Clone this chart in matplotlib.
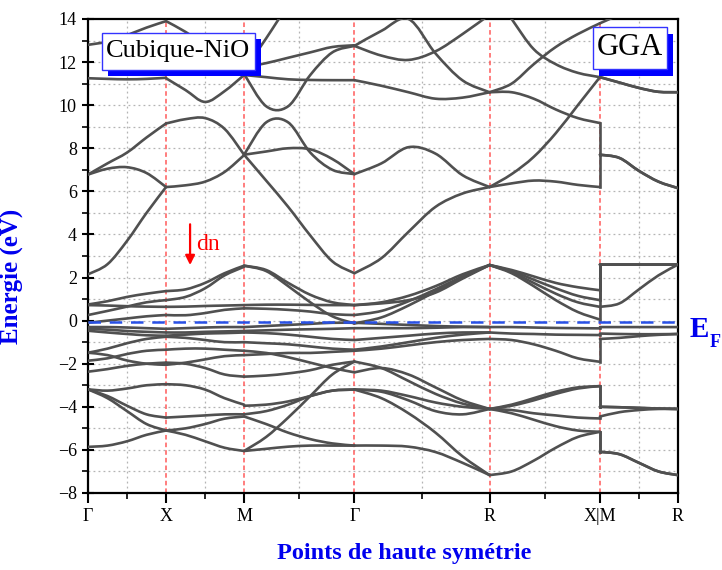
import numpy as np
import matplotlib
matplotlib.use("Agg")
import matplotlib.pyplot as plt
from matplotlib.patches import Rectangle, PathPatch
from matplotlib.path import Path

plt.rcParams['font.family'] = ['Liberation Serif', 'DejaVu Serif']

# high-symmetry path of the simple cubic zone (k in units of 2*pi/a)
k_ticks = [0.0, 0.5, 1.0, 1.7071, 2.5731, 3.2802, 3.7802]
k_labels = ['Γ', 'X', 'M', 'Γ', 'R', 'X|M', 'R']
k_minor = [0.25, 0.75, 1.3536, 2.1401, 2.9267, 3.5302]

# sample positions along each segment
k_GX = [0.0, 0.125, 0.25, 0.375, 0.5]
k_XM = [0.5, 0.625, 0.75, 0.875, 1.0]
k_MG = [1.0, 1.1414, 1.2828, 1.4243, 1.5657, 1.7071]
k_GR = [1.7071, 1.8803, 2.0535, 2.2267, 2.3999, 2.5731]
k_RXM = [2.5731, 2.7145, 2.8559, 2.9974, 3.1388, 3.2802,
         3.2802, 3.4052, 3.5302, 3.6552, 3.7802]

# band energies (eV) along Gamma-X
bands_GX = [
    [2.15, 2.62, 3.7, 5.0, 6.2],
    [6.78, 7.05, 7.12, 6.85, 6.2],
    [6.78, 7.3, 7.8, 8.5, 9.15],
    [11.25, 11.22, 11.2, 11.22, 11.27],
    [12.8, 12.95, 13.25, 13.6, 13.9],
    [0.75, 0.9, 1.1, 1.25, 1.37],
    [0.26, 0.45, 0.65, 0.85, 0.95],
    [0.72, 0.7, 0.67, 0.65, 0.64],
    [-0.1, 0.0, 0.1, 0.2, 0.26],
    [-0.3, -0.3, -0.32, -0.35, -0.38],
    [-0.38, -0.42, -0.48, -0.52, -0.55],
    [-0.47, -0.55, -0.62, -0.68, -0.7],
    [-1.49, -1.3, -1.05, -0.85, -0.75],
    [-1.49, -1.6, -1.85, -2.0, -2.05],
    [-1.86, -1.75, -1.55, -1.4, -1.35],
    [-2.37, -2.25, -2.1, -2.0, -1.95],
    [-3.19, -3.25, -3.15, -3.0, -2.95],
    [-3.19, -3.5, -3.95, -4.35, -4.5],
    [-3.19, -3.6, -4.2, -4.8, -5.1],
    [-5.86, -5.8, -5.6, -5.3, -5.1],
]

# X-M
bands_XM = [
    [6.2, 6.28, 6.45, 6.9, 7.68],
    [9.15, 9.35, 9.4, 8.9, 7.7],
    [11.25, 10.7, 10.15, 10.65, 11.4],
    [13.9, 13.4, 12.8, 12.2, 11.8],
    [1.37, 1.45, 1.75, 2.2, 2.55],
    [0.95, 1.1, 1.5, 2.1, 2.5],
    [0.64, 0.65, 0.68, 0.7, 0.72],
    [0.26, 0.25, 0.35, 0.5, 0.57],
    [-0.38, -0.35, -0.32, -0.3, -0.3],
    [-0.55, -0.55, -0.52, -0.5, -0.48],
    [-0.7, -0.65, -0.6, -0.58, -0.55],
    [-0.75, -0.8, -0.9, -1.0, -1.0],
    [-2.05, -1.95, -1.8, -1.65, -1.6],
    [-1.35, -1.3, -1.3, -1.35, -1.4],
    [-1.95, -2.0, -2.2, -2.5, -2.6],
    [-2.95, -3.0, -3.2, -3.6, -3.9],
    [-4.5, -4.45, -4.4, -4.35, -4.35],
    [-5.1, -5.3, -5.6, -5.9, -6.05],
    [-5.1, -5.0, -4.8, -4.55, -4.45],
]

# M-Gamma
bands_MG = [
    [7.7, 6.5, 5.28, 3.95, 2.75, 2.2],
    [7.7, 9.2, 9.2, 7.8, 7.0, 6.8],
    [7.7, 7.85, 8.0, 7.95, 7.5, 6.8],
    [11.45, 9.95, 9.95, 11.4, 12.45, 12.75],
    [11.4, 11.3, 11.2, 11.17, 11.16, 11.16],
    [11.75, 11.95, 12.2, 12.45, 12.7, 12.78],
    [11.6, 13.1, 14.6, 15.5, 15.5, 15.5],
    [2.55, 2.35, 1.75, 1.2, 0.85, 0.72],
    [2.55, 2.3, 1.6, 0.85, 0.2, -0.13],
    [0.72, 0.74, 0.74, 0.73, 0.72, 0.72],
    [0.57, 0.55, 0.5, 0.42, 0.3, 0.26],
    [-0.3, -0.25, -0.2, -0.15, -0.1, -0.1],
    [-0.48, -0.45, -0.42, -0.4, -0.38, -0.35],
    [-0.55, -0.58, -0.65, -0.75, -0.85, -0.9],
    [-1.0, -1.05, -1.1, -1.2, -1.3, -1.35],
    [-1.6, -1.55, -1.5, -1.5, -1.45, -1.4],
    [-1.4, -1.5, -1.7, -1.95, -2.2, -2.4],
    [-2.6, -2.55, -2.45, -2.3, -2.05, -1.9],
    [-3.95, -3.9, -3.75, -3.5, -3.25, -3.2],
    [-4.35, -4.2, -3.9, -3.5, -3.25, -3.2],
    [-6.05, -5.4, -4.5, -3.5, -2.5, -1.9],
    [-4.45, -4.8, -5.2, -5.5, -5.7, -5.8],
    [-6.05, -5.95, -5.85, -5.8, -5.8, -5.8],
]

# Gamma-R
bands_GR = [
    [2.2, 2.9, 4.12, 5.28, 5.9, 6.2],
    [6.8, 7.3, 8.05, 7.75, 6.75, 6.2],
    [11.16, 10.9, 10.6, 10.3, 10.35, 10.6],
    [12.75, 12.3, 12.1, 12.5, 13.3, 14.2],
    [12.75, 13.45, 14.0, 12.4, 11.15, 10.6],
    [0.72, 0.8, 0.95, 1.3, 1.95, 2.58],
    [0.72, 0.85, 1.15, 1.6, 2.15, 2.58],
    [0.26, 0.45, 0.9, 1.45, 2.05, 2.58],
    [-0.13, 0.15, 0.7, 1.35, 2.0, 2.58],
    [-0.1, -0.15, -0.2, -0.25, -0.28, -0.3],
    [-0.35, -0.35, -0.35, -0.33, -0.3, -0.3],
    [-0.9, -0.8, -0.7, -0.6, -0.55, -0.55],
    [-1.35, -1.2, -1.0, -0.8, -0.65, -0.55],
    [-1.4, -1.3, -1.15, -1.0, -0.9, -0.85],
    [-2.4, -2.2, -2.5, -3.1, -3.7, -4.1],
    [-1.9, -2.2, -2.8, -3.4, -3.85, -4.1],
    [-3.2, -3.3, -3.7, -4.2, -4.35, -4.1],
    [-3.2, -3.25, -3.5, -3.8, -4.0, -4.1],
    [-3.2, -3.6, -4.3, -5.2, -6.3, -7.17],
    [-5.8, -5.8, -5.85, -6.1, -6.6, -7.17],
]

# R-X, then M-R (X and M share one tick)
bands_RXM = [
    [6.2, 6.37, 6.5, 6.45, 6.3, 6.2, 7.7, 7.55, 6.95, 6.45, 6.15],
    [10.6, 10.6, 10.3, 9.8, 9.4, 9.17, 7.7, 7.55, 6.95, 6.45, 6.15],
    [6.2, 6.8, 7.6, 8.7, 10.0, 11.3, 11.3, 11.05, 10.8, 10.62, 10.6],
    [15.5, 14.0, 12.6, 11.9, 11.5, 11.3, 11.3, 11.05, 10.8, 10.62, 10.6],
    [10.6, 11.0, 11.9, 12.7, 13.3, 13.8, 13.8, 14.2, 14.6, 15.0, 15.0],
    [2.58, 2.35, 2.05, 1.75, 1.55, 1.41, 2.6, 2.6, 2.6, 2.6, 2.6],
    [2.58, 2.3, 1.9, 1.5, 1.15, 0.95, 2.6, 2.6, 2.6, 2.6, 2.6],
    [2.58, 2.25, 1.75, 1.25, 0.85, 0.64, 0.64, 0.8, 1.45, 2.1, 2.6],
    [2.58, 2.2, 1.6, 0.95, 0.4, 0.05, 2.6, 2.6, 2.6, 2.6, 2.6],
    [-0.3, -0.3, -0.32, -0.34, -0.35, -0.36, -0.3, -0.3, -0.3, -0.3, -0.3],
    [-0.55, -0.6, -0.62, -0.65, -0.66, -0.67, -0.6, -0.62, -0.63, -0.63, -0.62],
    [-0.85, -0.9, -1.1, -1.4, -1.75, -1.91, -0.85, -0.8, -0.72, -0.66, -0.62],
    [-4.1, -3.95, -3.7, -3.4, -3.15, -3.04, -4.0, -4.02, -4.05, -4.08, -4.1],
    [-4.1, -3.9, -3.6, -3.3, -3.1, -3.04, -4.0, -4.02, -4.05, -4.08, -4.1],
    [-4.1, -4.15, -4.3, -4.4, -4.5, -4.54, -4.45, -4.25, -4.15, -4.1, -4.1],
    [-4.1, -4.3, -4.6, -4.9, -5.1, -5.16, -6.09, -6.2, -6.6, -7.0, -7.17],
    [-7.17, -7.0, -6.5, -5.9, -5.4, -5.16, -6.09, -6.2, -6.6, -7.0, -7.17],
]

e_fermi = -0.07
band_color = '#505050'


def spline_path(xs, ys):
    # cubic Bezier pieces through every sample (Catmull-Rom tangents)
    pts = np.column_stack([xs, ys]).astype(float)
    n = len(pts)
    verts = [pts[0]]
    codes = [Path.MOVETO]
    for i in range(n - 1):
        p0 = pts[i - 1] if i > 0 else pts[i]
        p1, p2 = pts[i], pts[i + 1]
        p3 = pts[i + 2] if i + 2 < n else pts[i + 1]
        verts += [p1 + (p2 - p0) / 6.0, p2 - (p3 - p1) / 6.0, p2]
        codes += [Path.CURVE4] * 3
    return Path(verts, codes)


def draw_band(ax, xs, ys):
    ax.add_patch(PathPatch(spline_path(xs, ys), fill=False, edgecolor=band_color,
                           lw=1.9, capstyle='round', joinstyle='round', zorder=3))


fig = plt.figure(figsize=(7.22, 5.70), dpi=100)
ax = fig.add_axes([0.1219, 0.1351, 0.8171, 0.8316])

# grid: grey dots on minor positions, red dashes at high-symmetry points
for y in range(-7, 14):
    ax.axhline(y, color='#b4b4b4', lw=0.9, ls=(0, (1.5, 2.5)), zorder=1)
for k in k_minor:
    ax.axvline(k, color='#b4b4b4', lw=0.9, ls=(0, (1.5, 2.5)), zorder=1)
for k in k_ticks[1:-1]:
    ax.axvline(k, color='#ff5a5a', lw=1.1, ls=(0, (3, 2)), zorder=1)

for kk, bands in [(k_GX, bands_GX), (k_XM, bands_XM), (k_MG, bands_MG),
                  (k_GR, bands_GR)]:
    for band in bands:
        draw_band(ax, kk, band)

# R-X and M-R drawn apart, joined by the vertical step at X|M
for band in bands_RXM:
    draw_band(ax, k_RXM[:6], band[:6])
    draw_band(ax, k_RXM[6:], band[6:])
    ax.plot(k_RXM[5:7], band[5:7], color=band_color, lw=1.9, zorder=3)

ax.axhline(e_fermi, color='#2850e6', lw=1.8, ls=(0, (5, 3.5)), zorder=4)

ax.set_xlim(k_ticks[0], k_ticks[-1])
ax.set_ylim(-8, 14)
ax.set_xticks(k_ticks)
ax.set_xticklabels(k_labels)
ax.set_xticks(k_minor, minor=True)
ax.set_yticks(range(-8, 15, 2))
ax.set_yticks(range(-7, 14, 2), minor=True)
ax.tick_params(axis='both', which='major', labelsize=13, width=1.5, length=6)
ax.tick_params(axis='y', which='major', direction='inout', length=9)
ax.tick_params(axis='x', which='major', direction='out', length=7)
ax.tick_params(axis='both', which='minor', direction='out', width=1.2, length=4)
for sp in ax.spines.values():
    sp.set_linewidth(1.6)

ax.set_ylabel('Energie (eV)', color='#0000ee', fontsize=18, fontweight='bold')
ax.yaxis.set_label_coords(-0.11, 0.456)
ax.set_xlabel('Points de haute symétrie', color='#0000ee', fontsize=17.5,
              fontweight='bold')
ax.xaxis.set_label_coords(0.536, -0.105)

# labelled boxes with a solid blue drop shadow
ax.add_patch(Rectangle((0.0339, 0.8797), 0.2593, 0.0781, transform=ax.transAxes,
                       facecolor='#0000ff', edgecolor='none', zorder=5))
ax.add_patch(Rectangle((0.0237, 0.8924), 0.2593, 0.0781, transform=ax.transAxes,
                       facecolor='white', edgecolor='#3333ff', lw=1, zorder=6))
ax.text(0.1525, 0.9314, 'Cubique-NiO', transform=ax.transAxes, fontsize=19,
        ha='center', va='center', zorder=7)
ax.add_patch(Rectangle((0.8661, 0.8797), 0.1254, 0.0886, transform=ax.transAxes,
                       facecolor='#0000ff', edgecolor='none', zorder=5))
ax.add_patch(Rectangle((0.8559, 0.8945), 0.1254, 0.0886, transform=ax.transAxes,
                       facecolor='white', edgecolor='#3333ff', lw=1, zorder=6))
ax.text(0.9186, 0.9388, 'GGA', transform=ax.transAxes, fontsize=22,
        ha='center', va='center', zorder=7)

# spin channel marker
ax.annotate('', xy=(0.654, 2.45), xytext=(0.654, 4.6),
            arrowprops=dict(arrowstyle='-|>', color='red', lw=1.6,
                            mutation_scale=14), zorder=7)
ax.text(0.69, 3.55, 'dn', color='red', fontsize=17, ha='left', va='center', zorder=7)

# Fermi level label outside the frame
ax.text(3.855, -0.42, 'E', color='#0000ee', fontsize=21, fontweight='bold',
        ha='left', va='center', clip_on=False)
ax.text(3.985, -1.0, 'F', color='#0000ee', fontsize=13, fontweight='bold',
        ha='left', va='center', clip_on=False)

fig.savefig('out.png', dpi=100)
